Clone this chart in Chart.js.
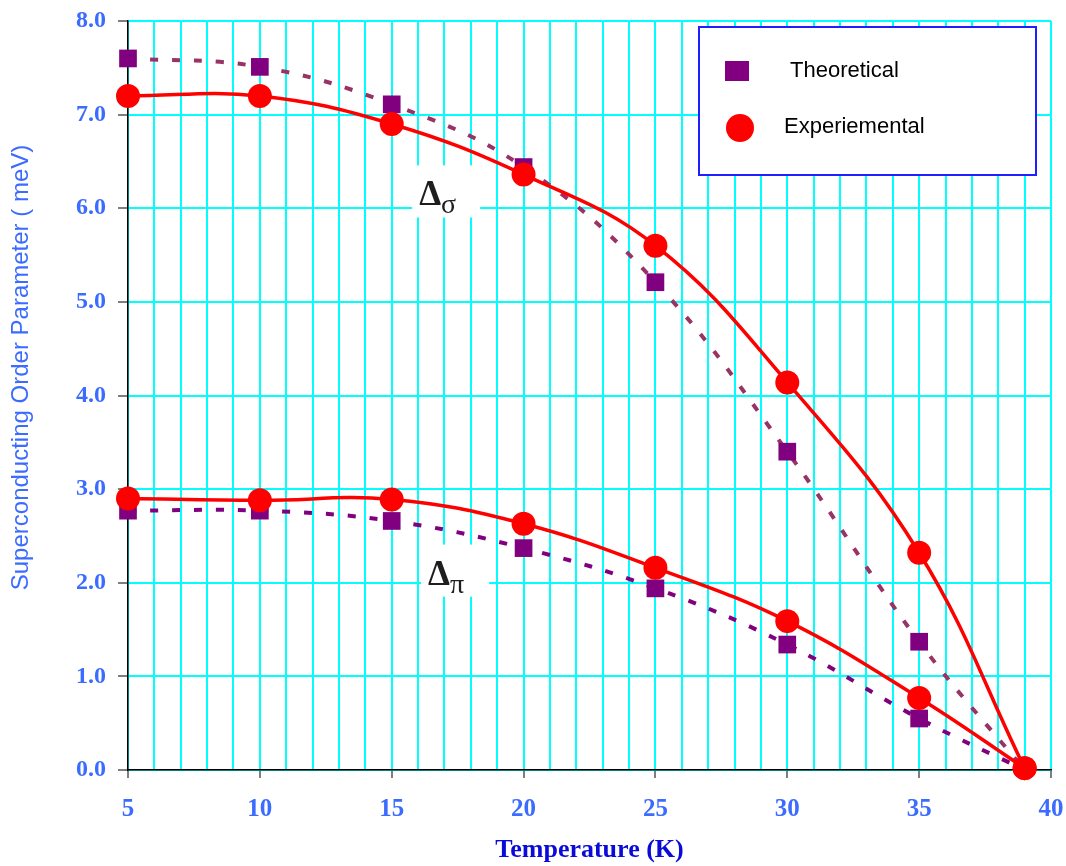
<!DOCTYPE html>
<html><head><meta charset="utf-8">
<script src="https://cdn.jsdelivr.net/npm/chart.js@4"></script>
<style>html,body{margin:0;padding:0;background:#fff;}#wrap{width:1066px;height:866px;position:relative}</style>
</head><body><div id="wrap"><canvas id="c" width="1066" height="866"></canvas></div>
<script>
// ---- data ----
const temperatures = [5, 10, 15, 20, 25, 30, 35, 39];
const sigmaTheoretical = [7.60, 7.51, 7.11, 6.44, 5.21, 3.40, 1.37, 0.00];
const sigmaExperimental = [7.20, 7.20, 6.90, 6.36, 5.60, 4.14, 2.32, 0.02];
const piTheoretical = [2.77, 2.77, 2.66, 2.37, 1.94, 1.34, 0.55, 0.00];
const piExperimental = [2.90, 2.88, 2.89, 2.63, 2.16, 1.59, 0.77, 0.02];
const xTickLabels = [5, 10, 15, 20, 25, 30, 35, 40];
const yTickLabels = [0, 1, 2, 3, 4, 5, 6, 7, 8];
const seriesNames = ['Theoretical', 'Experiemental'];
const gapLabelText = [['Δ', 'σ'], ['Δ', 'π']];
const gapLabelAt = [[16.04, 6.03], [16.38, 1.98]];

const pts = (ys) => temperatures.map((t, i) => ({x: t, y: ys[i]}));
const hideLast = (r) => (c) => c.dataIndex === temperatures.length - 1 ? 0 : r;

const tickBlue = '#3b6cff';

const overlay = {
  id: 'overlay',
  beforeDatasetsDraw(chart) {
    const ctx = chart.ctx, xs = chart.scales.x, ys = chart.scales.y;
    gapLabelText.forEach((txt, i) => {
      const px = xs.getPixelForValue(gapLabelAt[i][0]);
      const py = ys.getPixelForValue(gapLabelAt[i][1]);
      ctx.save();
      ctx.fillStyle = '#ffffff';
      ctx.fillRect(px - 7, py - 40, 68, 52);
      ctx.fillStyle = '#1e1e1e';
      ctx.textBaseline = 'alphabetic';
      ctx.textAlign = 'left';
      ctx.font = 'bold 35px "Liberation Serif", "Times New Roman", serif';
      ctx.fillText(txt[0], px, py);
      const w = ctx.measureText(txt[0]).width;
      ctx.font = '28px "Liberation Serif", "Times New Roman", serif';
      ctx.fillText(txt[1], px + w, py + 8);
      ctx.restore();
    });
  },
  afterDraw(chart) {
    const ctx = chart.ctx;
    ctx.save();
    // legend box
    ctx.fillStyle = '#ffffff';
    ctx.fillRect(699, 27, 337, 148);
    ctx.strokeStyle = '#1f1fff';
    ctx.lineWidth = 2;
    ctx.strokeRect(699, 27, 337, 148);
    ctx.fillStyle = '#800080';
    ctx.fillRect(725, 61, 24, 20);
    ctx.fillStyle = '#ff0000';
    ctx.beginPath();
    ctx.arc(740, 128, 14, 0, Math.PI * 2);
    ctx.fill();
    ctx.fillStyle = '#000000';
    ctx.font = '22px "Liberation Sans", Arial, sans-serif';
    ctx.textBaseline = 'middle';
    ctx.textAlign = 'left';
    ctx.fillText(seriesNames[0], 790, 71);
    ctx.fillText(seriesNames[1], 784, 127);
    // y axis title
    ctx.translate(21, 367.5);
    ctx.rotate(-Math.PI / 2);
    ctx.textAlign = 'center';
    ctx.fillStyle = tickBlue;
    ctx.font = '24px "Liberation Sans", Arial, sans-serif';
    ctx.fillText('Superconducting Order Parameter ( meV)', 0, 0);
    ctx.restore();
  }
};

new Chart(document.getElementById('c'), {
  type: 'line',
  data: {
    datasets: [
      {label: seriesNames[1], data: pts(sigmaExperimental), order: 1, clip: false, borderColor: '#ff0000', backgroundColor: '#ff0000',
       borderWidth: 3.5, tension: 0.4, pointStyle: 'circle', pointRadius: 12, pointBorderWidth: 0, pointHoverRadius: 12},
      {label: seriesNames[1], data: pts(piExperimental), order: 1, clip: false, borderColor: '#ff0000', backgroundColor: '#ff0000',
       borderWidth: 3.5, tension: 0.4, pointStyle: 'circle', pointRadius: 12, pointBorderWidth: 0, pointHoverRadius: 12},
      {label: seriesNames[0], data: pts(sigmaTheoretical), order: 2, clip: false, borderColor: '#993366', backgroundColor: '#800080',
       borderWidth: 4, borderDash: [8, 14], tension: 0.4, pointStyle: 'rect', pointRadius: hideLast(12.5), pointBorderWidth: 0, pointHoverRadius: hideLast(12.5)},
      {label: seriesNames[0], data: pts(piTheoretical), order: 2, clip: false, borderColor: '#800080', backgroundColor: '#800080',
       borderWidth: 4, borderDash: [8, 14], tension: 0.4, pointStyle: 'rect', pointRadius: hideLast(12.5), pointBorderWidth: 0, pointHoverRadius: hideLast(12.5)}
    ]
  },
  options: {
    responsive: false,
    devicePixelRatio: 1,
    animation: false,
    events: [],
    layout: {padding: {left: 0, right: 15, top: 21, bottom: 0}},
    plugins: {legend: {display: false}, tooltip: {enabled: false}},
    scales: {
      x: {
        type: 'linear', min: 5, max: 40,
        ticks: {
          stepSize: 1, autoSkip: false, maxRotation: 0, padding: 17,
          color: tickBlue,
          font: {family: '"Liberation Serif", "Times New Roman", serif', size: 25, weight: 'bold'},
          callback: (v) => xTickLabels.includes(v) ? String(v) : ''
        },
        grid: {
          color: '#00ffff', lineWidth: 2, tickLength: 8, tickWidth: 1.5,
          tickColor: (c) => (c.tick && xTickLabels.includes(c.tick.value)) ? '#555555' : 'rgba(0,0,0,0)'
        },
        border: {color: '#000000', width: 1.5},
        title: {display: true, text: 'Temperature (K)', color: '#0b0bd9', padding: 0,
          font: {family: '"Liberation Serif", "Times New Roman", serif', size: 26, weight: 'bold'}},
        afterFit: (s) => { s.height = 96; s.paddingLeft = 0; s.paddingRight = 0; }
      },
      y: {
        type: 'linear', min: 0, max: 8,
        afterBuildTicks: (s) => { s.ticks = yTickLabels.map(v => ({value: v})); },
        ticks: {
          padding: 12, color: tickBlue,
          font: {family: '"Liberation Serif", "Times New Roman", serif', size: 24, weight: 'bold'},
          callback: (v) => Number(v).toFixed(1)
        },
        grid: {color: '#00ffff', lineWidth: 2, tickLength: 10, tickWidth: 1.5, tickColor: '#555555'},
        border: {color: '#000000', width: 1.5},
        afterFit: (s) => { s.width = 128; s.paddingTop = 0; s.paddingBottom = 0; }
      }
    }
  },
  plugins: [overlay]
});
</script>
</body></html>
